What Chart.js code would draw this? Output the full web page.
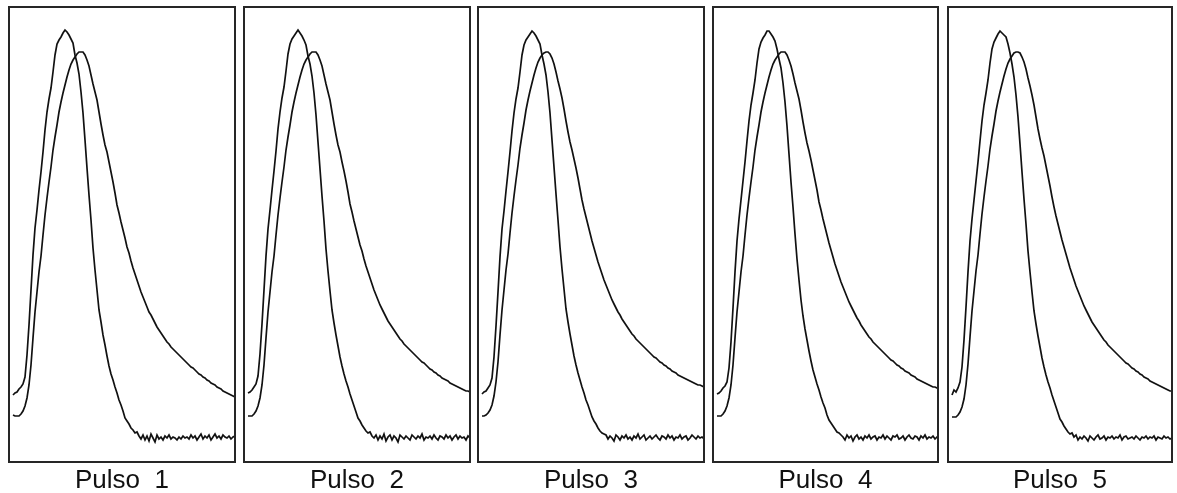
<!DOCTYPE html>
<html>
<head>
<meta charset="utf-8">
<script src="https://cdn.jsdelivr.net/npm/chart.js@4/dist/chart.umd.min.js"></script>
<style>
  body { margin: 0; background: #fff; }
  #wrap { position: relative; width: 1177px; height: 493px; overflow: hidden; }
  #wrap canvas { position: absolute; top: 0; }
</style>
</head>
<body>
<div id="wrap"></div>
<script>
// one sample every time step, amplitude in arbitrary units (0 = panel floor)
const pulseNames = ['Pulso  1', 'Pulso  2', 'Pulso  3', 'Pulso  4', 'Pulso  5'];
const timeSpan = [113, 113, 113, 112.5, 112];

// fast trace: early narrow peak that falls back to a noisy baseline
const fast1 = [null, null,
  0.67, 0.69, 0.70, 0.73, 0.75, 0.78, 0.85, 1.07, 1.37, 1.72,
  2.07, 2.34, 2.52, 2.72, 2.90, 3.10, 3.32, 3.50, 3.63, 3.74,
  3.90, 4.07, 4.18, 4.22, 4.25, 4.29, 4.32, 4.30, 4.27, 4.23,
  4.19, 4.07, 3.99, 3.88, 3.70, 3.49, 3.22, 2.94, 2.67, 2.42,
  2.14, 1.92, 1.72, 1.52, 1.40, 1.27, 1.17, 1.06, 0.96, 0.88,
  0.82, 0.75, 0.69, 0.62, 0.57, 0.51, 0.44, 0.41, 0.38, 0.34,
  0.32, 0.29, 0.30, 0.26, 0.23, 0.27, 0.22, 0.26, 0.21, 0.28,
  0.24, 0.20, 0.27, 0.23, 0.25, 0.22, 0.26, 0.24, 0.27, 0.23,
  0.25, 0.24, 0.22, 0.25, 0.23, 0.26, 0.24, 0.25, 0.23, 0.27,
  0.24, 0.26, 0.22, 0.25, 0.28, 0.23, 0.26, 0.24, 0.27, 0.22,
  0.25, 0.28, 0.24, 0.26, 0.23, 0.27, 0.25, 0.24, 0.26, 0.23,
  0.25, 0.26];
const fast2 = [null, null,
  0.69, 0.70, 0.72, 0.75, 0.78, 0.86, 1.08, 1.38, 1.72, 2.06,
  2.33, 2.52, 2.72, 2.91, 3.11, 3.33, 3.50, 3.64, 3.75, 3.91,
  4.08, 4.18, 4.23, 4.26, 4.29, 4.32, 4.29, 4.26, 4.22, 4.17,
  4.06, 3.98, 3.86, 3.69, 3.47, 3.20, 2.93, 2.66, 2.41, 2.13,
  1.91, 1.71, 1.52, 1.39, 1.27, 1.16, 1.05, 0.96, 0.88, 0.81,
  0.75, 0.68, 0.62, 0.56, 0.50, 0.44, 0.41, 0.37, 0.34, 0.31,
  0.29, 0.30, 0.26, 0.24, 0.27, 0.22, 0.26, 0.23, 0.28, 0.21,
  0.25, 0.27, 0.22, 0.26, 0.24, 0.20, 0.27, 0.25, 0.23, 0.26,
  0.24, 0.22, 0.27, 0.25, 0.23, 0.26, 0.24, 0.28, 0.22, 0.25,
  0.24, 0.26, 0.23, 0.27, 0.24, 0.22, 0.26, 0.25, 0.23, 0.27,
  0.24, 0.26, 0.22, 0.25, 0.27, 0.23, 0.26, 0.24, 0.25, 0.22,
  0.26, 0.24];
const fast3 = [null, null,
  0.68, 0.70, 0.71, 0.74, 0.77, 0.84, 1.05, 1.36, 1.70, 2.05,
  2.33, 2.51, 2.71, 2.90, 3.10, 3.31, 3.49, 3.63, 3.74, 3.90,
  4.07, 4.17, 4.22, 4.25, 4.28, 4.31, 4.29, 4.26, 4.22, 4.18,
  4.07, 3.98, 3.87, 3.70, 3.49, 3.22, 2.95, 2.68, 2.42, 2.15,
  1.93, 1.73, 1.53, 1.40, 1.28, 1.17, 1.06, 0.97, 0.89, 0.82,
  0.75, 0.69, 0.62, 0.57, 0.51, 0.45, 0.41, 0.38, 0.34, 0.31,
  0.29, 0.28, 0.27, 0.23, 0.26, 0.24, 0.21, 0.27, 0.25, 0.22,
  0.26, 0.24, 0.27, 0.23, 0.25, 0.22, 0.26, 0.24, 0.28, 0.23,
  0.25, 0.27, 0.22, 0.24, 0.26, 0.23, 0.25, 0.27, 0.24, 0.22,
  0.26, 0.25, 0.23, 0.27, 0.24, 0.26, 0.22, 0.25, 0.24, 0.27,
  0.23, 0.25, 0.26, 0.22, 0.24, 0.27, 0.25, 0.23, 0.26, 0.24,
  0.25, 0.23];
const fast4 = [null, null,
  0.68, 0.69, 0.71, 0.74, 0.76, 0.80, 0.94, 1.20, 1.54, 1.90,
  2.21, 2.43, 2.62, 2.81, 3.00, 3.21, 3.41, 3.57, 3.69, 3.82,
  3.99, 4.13, 4.20, 4.24, 4.27, 4.31, 4.31, 4.28, 4.25, 4.21,
  4.13, 4.03, 3.94, 3.79, 3.60, 3.36, 3.08, 2.80, 2.55, 2.28,
  2.03, 1.82, 1.62, 1.46, 1.33, 1.22, 1.11, 1.01, 0.92, 0.85,
  0.78, 0.72, 0.65, 0.59, 0.54, 0.47, 0.42, 0.39, 0.36, 0.33,
  0.30, 0.29, 0.27, 0.25, 0.22, 0.27, 0.24, 0.26, 0.21, 0.25,
  0.27, 0.23, 0.25, 0.22, 0.26, 0.24, 0.27, 0.23, 0.25, 0.26,
  0.22, 0.25, 0.24, 0.27, 0.23, 0.26, 0.24, 0.22, 0.26, 0.25,
  0.27, 0.23, 0.24, 0.26, 0.22, 0.25, 0.27, 0.24, 0.23, 0.26,
  0.25, 0.22, 0.26, 0.24, 0.27, 0.23, 0.25, 0.24, 0.26, 0.23,
  0.25, 0.24];
const fast5 = [null, null,
  0.67, 0.72, 0.70, 0.74, 0.80, 0.95, 1.22, 1.55, 1.90, 2.21,
  2.43, 2.62, 2.81, 3.00, 3.21, 3.41, 3.57, 3.69, 3.82, 3.99,
  4.13, 4.20, 4.24, 4.28, 4.31, 4.29, 4.27, 4.25, 4.18, 4.09,
  3.98, 3.85, 3.67, 3.45, 3.18, 2.90, 2.63, 2.38, 2.11, 1.90,
  1.70, 1.51, 1.38, 1.26, 1.15, 1.04, 0.95, 0.87, 0.80, 0.74,
  0.67, 0.61, 0.55, 0.49, 0.43, 0.40, 0.36, 0.33, 0.30, 0.28,
  0.29, 0.25, 0.27, 0.22, 0.25, 0.23, 0.26, 0.24, 0.21, 0.26,
  0.24, 0.22, 0.25, 0.27, 0.23, 0.24, 0.26, 0.22, 0.25, 0.24,
  0.26, 0.23, 0.25, 0.24, 0.27, 0.22, 0.25, 0.26, 0.23, 0.24,
  0.25, 0.23, 0.26, 0.24, 0.22, 0.25, 0.24, 0.26, 0.23, 0.25,
  0.24, 0.26, 0.22, 0.25, 0.24, 0.23, 0.26, 0.24, 0.25, 0.23,
  0.24];

// slow trace: later, lower peak with a long decaying tail
const slow1 = [null, null,
  0.47, 0.46, 0.46, 0.46, 0.48, 0.51, 0.56, 0.64, 0.77, 0.97,
  1.24, 1.50, 1.70, 1.90, 2.06, 2.27, 2.47, 2.64, 2.80, 2.95,
  3.12, 3.25, 3.37, 3.50, 3.60, 3.69, 3.77, 3.85, 3.92, 3.98,
  4.02, 4.05, 4.08, 4.10, 4.10, 4.10, 4.07, 4.02, 3.96, 3.87,
  3.78, 3.70, 3.62, 3.50, 3.38, 3.27, 3.17, 3.10, 3.00, 2.90,
  2.80, 2.69, 2.57, 2.49, 2.40, 2.32, 2.24, 2.15, 2.09, 2.01,
  1.94, 1.88, 1.82, 1.76, 1.70, 1.65, 1.60, 1.55, 1.50, 1.47,
  1.43, 1.39, 1.35, 1.32, 1.29, 1.26, 1.23, 1.20, 1.18, 1.15,
  1.13, 1.11, 1.09, 1.07, 1.05, 1.03, 1.01, 0.99, 0.97, 0.95,
  0.94, 0.92, 0.90, 0.88, 0.87, 0.85, 0.84, 0.82, 0.81, 0.79,
  0.78, 0.77, 0.75, 0.74, 0.73, 0.71, 0.70, 0.69, 0.68, 0.67,
  0.66, 0.65];
const slow2 = [null, null,
  0.46, 0.46, 0.46, 0.48, 0.51, 0.56, 0.64, 0.77, 0.97, 1.24,
  1.50, 1.70, 1.90, 2.06, 2.27, 2.47, 2.64, 2.80, 2.95, 3.12,
  3.25, 3.37, 3.50, 3.60, 3.69, 3.77, 3.85, 3.92, 3.98, 4.02,
  4.05, 4.08, 4.10, 4.10, 4.10, 4.07, 4.02, 3.96, 3.87, 3.78,
  3.70, 3.62, 3.50, 3.38, 3.27, 3.17, 3.10, 3.00, 2.91, 2.81,
  2.70, 2.58, 2.50, 2.41, 2.33, 2.25, 2.17, 2.11, 2.03, 1.96,
  1.90, 1.84, 1.78, 1.72, 1.67, 1.62, 1.57, 1.53, 1.49, 1.45,
  1.41, 1.38, 1.35, 1.32, 1.29, 1.26, 1.23, 1.21, 1.18, 1.16,
  1.14, 1.12, 1.10, 1.08, 1.06, 1.04, 1.02, 1.00, 0.99, 0.97,
  0.95, 0.93, 0.92, 0.90, 0.89, 0.87, 0.86, 0.84, 0.83, 0.82,
  0.81, 0.79, 0.78, 0.77, 0.76, 0.75, 0.74, 0.73, 0.72, 0.71,
  0.71, 0.70];
const slow3 = [null, null,
  0.46, 0.46, 0.47, 0.49, 0.52, 0.57, 0.66, 0.80, 1.00, 1.27,
  1.52, 1.72, 1.92, 2.08, 2.29, 2.49, 2.66, 2.82, 2.97, 3.14,
  3.27, 3.39, 3.52, 3.62, 3.71, 3.79, 3.87, 3.94, 4.00, 4.04,
  4.07, 4.09, 4.10, 4.10, 4.08, 4.04, 3.98, 3.90, 3.81, 3.73,
  3.64, 3.53, 3.41, 3.30, 3.20, 3.12, 3.03, 2.94, 2.84, 2.73,
  2.62, 2.53, 2.45, 2.37, 2.29, 2.21, 2.14, 2.07, 2.00, 1.94,
  1.88, 1.82, 1.77, 1.72, 1.67, 1.62, 1.58, 1.54, 1.50, 1.47,
  1.43, 1.40, 1.37, 1.34, 1.31, 1.28, 1.26, 1.23, 1.21, 1.19,
  1.17, 1.15, 1.13, 1.11, 1.09, 1.07, 1.05, 1.04, 1.02, 1.00,
  0.99, 0.97, 0.96, 0.94, 0.93, 0.91, 0.90, 0.89, 0.87, 0.86,
  0.85, 0.84, 0.83, 0.82, 0.81, 0.80, 0.79, 0.78, 0.77, 0.77,
  0.76, 0.75];
const slow4 = [null, null,
  0.46, 0.46, 0.46, 0.48, 0.51, 0.56, 0.64, 0.77, 0.97, 1.24,
  1.50, 1.70, 1.90, 2.06, 2.27, 2.47, 2.64, 2.80, 2.95, 3.12,
  3.25, 3.37, 3.50, 3.60, 3.69, 3.77, 3.85, 3.92, 3.98, 4.02,
  4.05, 4.08, 4.10, 4.10, 4.10, 4.07, 4.02, 3.96, 3.88, 3.79,
  3.71, 3.63, 3.52, 3.40, 3.29, 3.19, 3.11, 3.02, 2.92, 2.82,
  2.72, 2.60, 2.52, 2.43, 2.35, 2.27, 2.19, 2.12, 2.05, 1.98,
  1.92, 1.86, 1.80, 1.75, 1.70, 1.65, 1.60, 1.56, 1.52, 1.48,
  1.44, 1.41, 1.37, 1.34, 1.31, 1.28, 1.25, 1.23, 1.20, 1.18,
  1.16, 1.14, 1.12, 1.10, 1.08, 1.06, 1.04, 1.02, 1.01, 0.99,
  0.97, 0.96, 0.94, 0.93, 0.91, 0.90, 0.89, 0.87, 0.86, 0.85,
  0.83, 0.82, 0.81, 0.80, 0.79, 0.78, 0.77, 0.76, 0.75, 0.75,
  0.74, 0.73];
const slow5 = [null, null,
  0.45, 0.45, 0.45, 0.47, 0.50, 0.55, 0.63, 0.77, 0.98, 1.25,
  1.51, 1.71, 1.91, 2.07, 2.28, 2.48, 2.65, 2.81, 2.96, 3.13,
  3.26, 3.38, 3.51, 3.61, 3.70, 3.78, 3.86, 3.93, 3.99, 4.03,
  4.06, 4.09, 4.10, 4.10, 4.09, 4.05, 4.00, 3.93, 3.84, 3.76,
  3.67, 3.57, 3.45, 3.33, 3.23, 3.14, 3.06, 2.96, 2.86, 2.76,
  2.65, 2.55, 2.46, 2.38, 2.30, 2.22, 2.15, 2.08, 2.01, 1.94,
  1.88, 1.82, 1.76, 1.71, 1.66, 1.61, 1.56, 1.52, 1.48, 1.44,
  1.40, 1.37, 1.34, 1.31, 1.28, 1.25, 1.22, 1.20, 1.17, 1.15,
  1.13, 1.11, 1.09, 1.07, 1.05, 1.03, 1.01, 0.99, 0.98, 0.96,
  0.94, 0.93, 0.91, 0.90, 0.88, 0.87, 0.85, 0.84, 0.83, 0.81,
  0.80, 0.79, 0.78, 0.77, 0.76, 0.75, 0.74, 0.73, 0.72, 0.71,
  0.71];

const fastTraces = [fast1, fast2, fast3, fast4, fast5];
const slowTraces = [slow1, slow2, slow3, slow4, slow5];

// page placement of each framed panel
const panelLeft = [9, 244, 478, 713, 948];
const panelWidth = [226, 226, 226, 225, 224];

// box around the plot area of every panel
const panelFrame = {
  id: 'panelFrame',
  afterDraw(chart) {
    const { ctx, chartArea: a } = chart;
    ctx.save();
    ctx.strokeStyle = '#262626';
    ctx.lineWidth = 2;
    ctx.strokeRect(a.left, a.top, a.right - a.left, a.bottom - a.top);
    ctx.restore();
  }
};

const toPoints = (values) => values.map((v, i) => ({ x: i, y: v }));

const wrap = document.getElementById('wrap');

pulseNames.forEach((name, k) => {
  const canvas = document.createElement('canvas');
  canvas.width = panelWidth[k] + 10;
  canvas.height = 493;
  canvas.style.left = (panelLeft[k] - 5) + 'px';
  wrap.appendChild(canvas);

  const lineStyle = {
    borderColor: '#111',
    borderWidth: 1.7,
    pointRadius: 0,
    tension: 0,
    fill: false
  };

  new Chart(canvas, {
    type: 'line',
    data: {
      datasets: [
        { label: 'rápido', data: toPoints(fastTraces[k]), ...lineStyle },
        { label: 'lento', data: toPoints(slowTraces[k]), ...lineStyle }
      ]
    },
    options: {
      responsive: false,
      animation: false,
      devicePixelRatio: 1,
      events: [],
      layout: { padding: { top: 7, left: 5, right: 5, bottom: 0 } },
      plugins: { legend: { display: false }, tooltip: { enabled: false } },
      scales: {
        x: {
          type: 'linear',
          min: 0,
          max: timeSpan[k],
          ticks: { display: false },
          grid: { display: false, drawTicks: false },
          border: { display: false },
          title: {
            display: true,
            text: name,
            color: '#111',
            padding: 0,
            font: { family: '"Liberation Sans", Arial, sans-serif', size: 26, lineHeight: 0.9 }
          },
          afterFit: (scale) => { scale.height = 31; }
        },
        y: {
          display: false,
          min: 0,
          max: 4.55
        }
      }
    },
    plugins: [panelFrame]
  });
});
</script>
</body>
</html>
